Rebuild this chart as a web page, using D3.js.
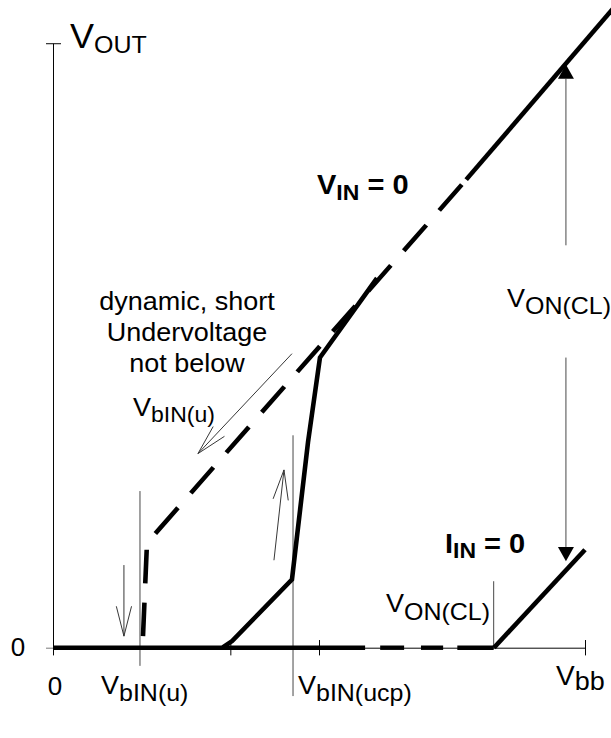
<!DOCTYPE html>
<html><head><meta charset="utf-8">
<script src="https://cdn.jsdelivr.net/npm/d3@7"></script>
<style>
html,body{margin:0;padding:0;background:#fff;}
text{font-family:"Liberation Sans",Arial,Helvetica,sans-serif;fill:#000;}
</style></head>
<body>
<svg id="chart" width="611" height="738"></svg>
<script>
// ---- data (chart units: Vbb on x, V_OUT on y) ----
const xTicks = [0, 20, 30, 60];
const yTicks = [0, 70];
const xTickLabels = ["0"];
const yTickLabels = ["0"];

// rising branch (solid): off until V_bIN(ucp), then steep rise to the V_IN=0 line
const riseCurve = [[0,0],[19.06,0],[20.2,0.78],[26.95,7.9],[28.76,23.8],[30.11,33.6],[36.54,42.8]];
// continued solid part of baseline
const baseSolid = [[19.06,0],[35.2,0]];
// dashed part of baseline (x ranges at V_OUT = 0)
const baseDashes = [[36.9,39.6],[41.5,44.0],[45.6,49.7]];
// V_IN = 0 line: dashed lower part, solid upper part
const vinDashed = [[10.15,1.34],[10.6,12.13],[46.6,54.2]];
const vinSolid = [[46.6,54.2],[64.5,75.6]];
// I_IN = 0 line
const iinLine = [[49.73,0],[60,11.35]];

// thin vertical guides: [x, yTop, yBottom]
const guides = [[9.81,18.14,-2.1],[27.07,24.6,-5.6],[49.7,7.7,0]];

// open arrows: [from, tip]
const openArrows = [
  [[26.95,34.05],[16.35,22.48]],
  [[8.0,9.57],[8.0,1.34]],
  [[24.92,10.13],[26.05,20.59]]
];
// filled arrows (V_ON(CL)): [from, tip]
const filledArrows = [
  [[57.85,46.6],[57.85,67.55]],
  [[57.85,33.6],[57.85,10.0]]
];

// ---- drawing ----
const root = d3.select("#chart");
const svg = root.append("g").attr("transform","scale(1,0.961)");
const x = d3.scaleLinear().domain([0,60]).range([53,585]);
const y = d3.scaleLinear().domain([0,70]).range([674,45]);
const line = d3.line().x(d=>x(d[0])).y(d=>y(d[1]));

// axes
const gx = svg.append("g").attr("transform",`translate(0,${y(0)})`)
  .call(d3.axisBottom(x).tickValues(xTicks).tickSizeInner(8).tickSizeOuter(0).tickFormat(""));
gx.selectAll(".tick line").attr("y1",-8).attr("stroke","#000");
gx.select(".domain").attr("stroke","#000");

const gy = svg.append("g").attr("transform",`translate(${x(0)},0)`)
  .call(d3.axisLeft(y).tickValues(yTicks).tickSizeInner(7).tickSizeOuter(0).tickFormat(""));
gy.select(".domain").attr("stroke","#000");
gy.selectAll(".tick line").attr("stroke",d=>d===0?"#777":"#000").attr("x1",d=>d===0?0:8);

// tick labels
svg.append("text").attr("x",18).attr("y",y(0)+9).attr("text-anchor","middle")
  .attr("font-size",26).text(yTickLabels[0]);
svg.append("text").attr("x",x(0)+2).attr("y",723).attr("text-anchor","middle")
  .attr("font-size",26).text(xTickLabels[0]);

// thin guides
svg.selectAll("line.guide").data(guides).join("line").attr("class","guide")
  .attr("x1",d=>x(d[0])).attr("x2",d=>x(d[0]))
  .attr("y1",d=>y(d[1])).attr("y2",d=>y(d[2]))
  .attr("stroke","#444").attr("stroke-width",1);

// thick curves
const thick = 4.6;
svg.append("path").attr("d",line(riseCurve)).attr("fill","none").attr("stroke","#000")
  .attr("stroke-width",thick).attr("stroke-linejoin","miter");
svg.append("path").attr("d",line(baseSolid)).attr("fill","none").attr("stroke","#000").attr("stroke-width",thick);
svg.selectAll("line.bdash").data(baseDashes).join("line").attr("class","bdash")
  .attr("x1",d=>x(d[0])).attr("x2",d=>x(d[1])).attr("y1",y(0)).attr("y2",y(0))
  .attr("stroke","#000").attr("stroke-width",thick);
svg.append("path").attr("d",line(vinDashed)).attr("fill","none").attr("stroke","#000")
  .attr("stroke-width",thick).attr("stroke-dasharray","35,20");
svg.append("path").attr("d",line(vinSolid)).attr("fill","none").attr("stroke","#000").attr("stroke-width",thick);
svg.append("path").attr("d",line(iinLine)).attr("fill","none").attr("stroke","#000").attr("stroke-width",thick);

// arrows
function openArrow(a){
  const x0=x(a[0][0]), y0=y(a[0][1]), x1=x(a[1][0]), y1=y(a[1][1]);
  const ang=Math.atan2(y0-y1,x0-x1), L=32, s=0.24;
  svg.append("line").attr("x1",x0).attr("y1",y0).attr("x2",x1).attr("y2",y1)
    .attr("stroke","#333").attr("stroke-width",1);
  const p=[[x1+L*Math.cos(ang+s),y1+L*Math.sin(ang+s)],[x1,y1],[x1+L*Math.cos(ang-s),y1+L*Math.sin(ang-s)]];
  svg.append("path").attr("d",d3.line()(p)).attr("fill","none").attr("stroke","#333").attr("stroke-width",1);
}
openArrows.forEach(openArrow);
function filledArrow(a){
  const x0=x(a[0][0]), y0=y(a[0][1]), x1=x(a[1][0]), y1=y(a[1][1]);
  const ang=Math.atan2(y0-y1,x0-x1), L=15, hw=8;
  const bx=x1+L*Math.cos(ang), by=y1+L*Math.sin(ang);
  svg.append("line").attr("x1",x0).attr("y1",y0).attr("x2",bx).attr("y2",by)
    .attr("stroke","#444").attr("stroke-width",1);
  const nx=-Math.sin(ang), ny=Math.cos(ang);
  svg.append("path").attr("d",d3.line()([[x1,y1],[bx+hw*nx,by+hw*ny],[bx-hw*nx,by-hw*ny]])+"Z").attr("fill","#000");
}
filledArrows.forEach(filledArrow);

// labels with subscripts
function subLabel(px,py,main,sub,size,subSize,dy,bold,rest){
  const t=svg.append("text").attr("x",px).attr("y",py).attr("font-size",size)
    .attr("font-weight",bold?"bold":"normal");
  t.append("tspan").text(main);
  t.append("tspan").attr("font-size",subSize).attr("dy",dy).text(sub);
  if(rest) t.append("tspan").attr("dy",-dy).text(rest);
}
subLabel(70,50,"V","OUT",36,25,5,false);
subLabel(317,202,"V","IN",29,23,6,true," = 0");
subLabel(445,575,"I","IN",29,23,6,true," = 0");
subLabel(133,433,"V","bIN(u)",27,23,6,false);
subLabel(507,319,"V","ON(CL)",27,25,8,false);
subLabel(386,637,"V","ON(CL)",27,25,8,false);
subLabel(101,722,"V","bIN(u)",27,25,7,false);
subLabel(298,722,"V","bIN(ucp)",27,25,7,false);
subLabel(556,713,"V","bb",28,27,5,false);

const note = ["dynamic, short","Undervoltage","not below"];
svg.selectAll("text.note").data(note).join("text").attr("class","note")
  .attr("x",187).attr("y",(d,i)=>323+i*32).attr("text-anchor","middle")
  .attr("font-size",27).text(d=>d);
</script>
</body></html>
